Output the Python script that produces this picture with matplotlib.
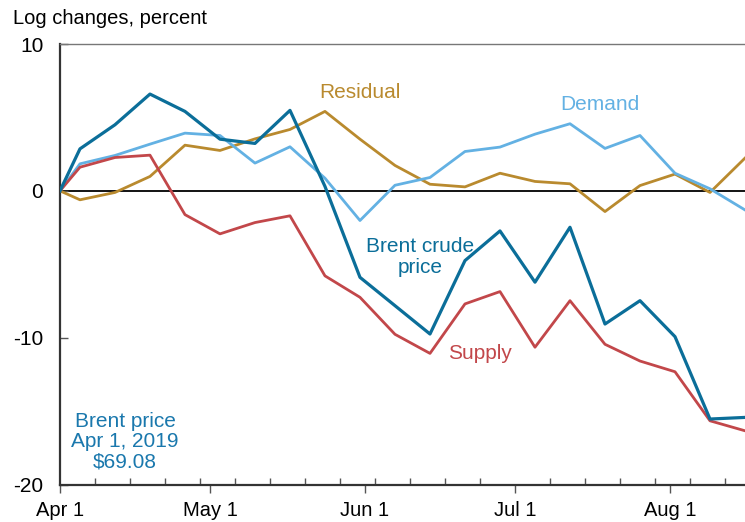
import pandas as pd
import matplotlib
matplotlib.use("Agg")
import matplotlib.pyplot as plt
import matplotlib.dates as mdates
from matplotlib.ticker import FuncFormatter

plt.rcParams['font.family'] = ['Liberation Sans', 'DejaVu Sans']

# weekly observations (Fridays), starting Apr 1 2019
dates = pd.to_datetime(["2019-04-01"] + list(pd.date_range("2019-04-05", "2019-08-16", freq="7D").strftime("%Y-%m-%d")))

brent = [0, 2.86, 4.5, 6.59, 5.41, 3.52, 3.23, 5.48, 0.3, -5.89, -7.82,
         -9.75, -4.75, -2.73, -6.22, -2.48, -9.07, -7.48, -9.93, -15.54, -15.43]
demand = [0, 1.84, 2.41, 3.18, 3.93, 3.77, 1.89, 3.0, 0.86, -2.02, 0.38,
          0.91, 2.68, 2.98, 3.86, 4.57, 2.89, 3.77, 1.2, 0.14, -1.3]
supply = [0, 1.61, 2.27, 2.43, -1.62, -2.93, -2.16, -1.70, -5.79, -7.25, -9.77,
          -11.07, -7.70, -6.86, -10.65, -7.48, -10.45, -11.59, -12.32, -15.66, -16.34]
residual = [0, -0.61, -0.11, 0.98, 3.11, 2.75, 3.54, 4.18, 5.41, 3.52, 1.73,
            0.45, 0.27, 1.2, 0.64, 0.48, -1.41, 0.36, 1.14, -0.11, 2.23]

c_brent = '#0b6e99'
c_demand = '#63b1e3'
c_supply = '#c2474a'
c_resid = '#b98a2e'

fig = plt.figure(figsize=(7.45, 5.22), dpi=100)
ax = fig.add_axes([0.0805, 0.0718, 1 - 0.0805, 0.9157 - 0.0718])

ax.axhline(0, color='black', lw=1.3, zorder=1)
ax.plot(dates, residual, color=c_resid, lw=2.0, zorder=2)
ax.plot(dates, demand, color=c_demand, lw=2.0, zorder=2)
ax.plot(dates, supply, color=c_supply, lw=2.0, zorder=3)
ax.plot(dates, brent, color=c_brent, lw=2.3, zorder=4)

ax.set_xlim(pd.Timestamp("2019-04-01"), pd.Timestamp("2019-08-16"))
ax.set_ylim(-20, 10)
ax.set_yticks([-20, -10, 0, 10])
ax.set_yticklabels(['-20', '-10', '0', '10'])

ax.xaxis.set_major_locator(mdates.MonthLocator())
ax.xaxis.set_major_formatter(FuncFormatter(lambda v, p: f"{mdates.num2date(v):%b} {mdates.num2date(v).day}"))
ax.xaxis.set_minor_locator(mdates.WeekdayLocator(byweekday=mdates.MO))

ax.tick_params(axis='x', which='major', direction='out', length=6, width=1, color='#555555',
               labelsize=14.5, pad=6)
ax.tick_params(axis='x', which='minor', direction='in', length=5, width=1, color='#555555')
ax.tick_params(axis='y', direction='in', length=6, width=1, color='#555555', labelsize=15, pad=12)

for s in ['left', 'bottom']:
    ax.spines[s].set_color('#333333')
    ax.spines[s].set_linewidth(1.6)
ax.spines['top'].set_color('#777777')
ax.spines['top'].set_linewidth(1.0)
ax.spines['right'].set_visible(False)

fig.text(0.018, 1 - 18 / 522, "Log changes, percent", ha='left', va='center', fontsize=14.5)

ax.text(pd.Timestamp("2019-05-31"), 6.7, "Residual", color=c_resid, fontsize=15, ha='center', va='center')
ax.text(pd.Timestamp("2019-07-18"), 5.9, "Demand", color=c_demand, fontsize=15, ha='center', va='center')
ax.text(pd.Timestamp("2019-06-12"), -4.5, "Brent crude\nprice", color=c_brent, fontsize=15,
        ha='center', va='center', linespacing=1.1)
ax.text(pd.Timestamp("2019-06-24"), -11.1, "Supply", color=c_supply, fontsize=15, ha='center', va='center')
ax.text(pd.Timestamp("2019-04-14"), -17.1, "Brent price\nApr 1, 2019\n$69.08", color='#1a78ad',
        fontsize=15, ha='center', va='center', linespacing=1.1)

fig.savefig("out.png", dpi=100)
